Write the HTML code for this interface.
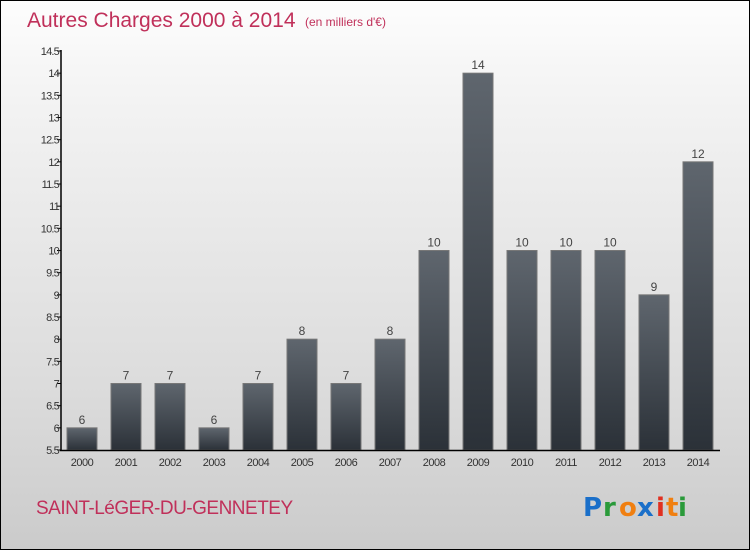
<!DOCTYPE html>
<html><head><meta charset="utf-8"><style>
html,body{margin:0;padding:0}
body{width:750px;height:550px;overflow:hidden;font-family:"Liberation Sans",sans-serif}
#frame{position:absolute;left:0;top:0;width:748px;height:548px;border:1px solid #000;background:linear-gradient(#fdfdfd,#f2f2f2 20%,#dcdcdc 70%,#cbcbcb)}
</style></head><body>
<div id="frame">
<svg width="750" height="550" style="position:absolute;left:-1px;top:-1px" id="svg">
<defs><linearGradient id="bg" x1="0" y1="0" x2="0" y2="1"><stop offset="0" stop-color="#5f666e"/><stop offset="1" stop-color="#2b3138"/></linearGradient></defs>
<text x="27" y="27" font-size="21" fill="#c0305a">Autres Charges 2000 à 2014</text>
<text x="305" y="26" font-size="12" fill="#c0305a">(en milliers d'€)</text>
<text x="36" y="514" font-size="19" fill="#c0305a" letter-spacing="-0.5">SAINT-LéGER-DU-GENNETEY</text>
<g font-size="26" font-weight="bold" font-family="'DejaVu Sans',sans-serif">
<text x="583" y="516" fill="#1a6fc9">P</text><text x="603" y="516" fill="#2a9a3a">r</text><text x="619" y="516" fill="#f07f10">o</text><text x="637" y="516" fill="#1a6fc9">x</text><text x="656" y="516" fill="#e03020">i</text><text x="666" y="516" fill="#f07f10">t</text><text x="678" y="516" fill="#2a9a3a">i</text>
</g>
<g id="plot"></g>
</svg></div>
<script>
const categories=["2000","2001","2002","2003","2004","2005","2006","2007","2008","2009","2010","2011","2012","2013","2014"];
const values=[6,7,7,6,7,8,7,8,10,14,10,10,10,9,12];
const yTicks=[5.5,6,6.5,7,7.5,8,8.5,9,9.5,10,10.5,11,11.5,12,12.5,13,13.5,14,14.5];
const NS="http://www.w3.org/2000/svg";
const g=document.getElementById('plot');
const y=v=>450-(v-5.5)*(399/9);
const x=i=>67+i*44;
function mk(t,a){const e=document.createElementNS(NS,t);for(const k in a)e.setAttribute(k,a[k]);g.appendChild(e);return e;}
values.forEach((v,i)=>{
 const r=mk('rect',{x:x(i),y:y(v),width:30,height:450-y(v),fill:'url(#bg)',stroke:'#777','stroke-width':1});
 
 
 const t=mk('text',{x:x(i)+15,y:y(v)-4,'text-anchor':'middle','font-size':12,fill:'#444'});t.textContent=v;
 
 
 const c=mk('text',{x:x(i)+15,y:466,'text-anchor':'middle','font-size':11,fill:'#333','letter-spacing':'-0.5'});c.textContent=categories[i];
 
 
});
yTicks.forEach(v=>{
 const l=mk('line',{x1:57,x2:61,y1:y(v),y2:y(v),stroke:'#000'});
 
 
 const t=mk('text',{x:59,y:y(v)+4,'text-anchor':'end','font-size':11,fill:'#333','letter-spacing':'-0.8'});t.textContent=v;
 
 
});
const ya=mk('line',{x1:61,x2:61,y1:50,y2:451,stroke:'#000','stroke-width':1.5});


const xa=mk('line',{x1:60,x2:720,y1:450.5,y2:450.5,stroke:'#000','stroke-width':1.5});


</script>
</body></html>
